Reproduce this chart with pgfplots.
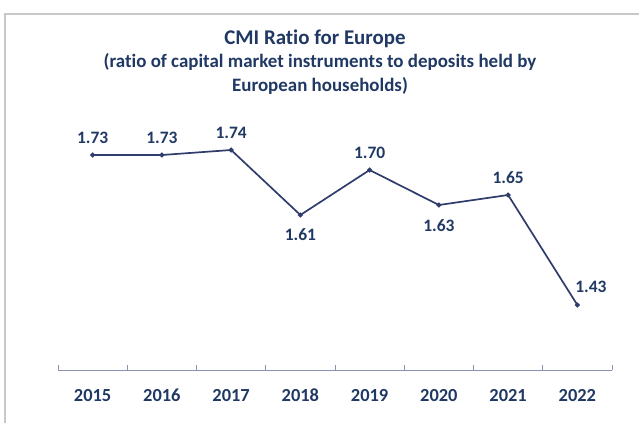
\documentclass[border=0pt]{standalone}
\usepackage{pgfplots}
\pgfplotsset{compat=1.18}
\usepackage{pgfplotstable}
\usepackage{fontspec}
\setmainfont{Carlito}[Ligatures=NoCommon]
\definecolor{navy}{HTML}{203864}
\definecolor{linecol}{HTML}{2F3C6C}
\definecolor{axiscol}{HTML}{8A92B2}
\definecolor{framecol}{HTML}{C8C8C8}
\pgfplotstableread{
x y anc dx dy
0 1.73 270 0 11
1 1.73 270 0 11
2 1.74 270 0 11
3 1.61 90 0 -13
4 1.70 270 0 11
5 1.63 90 0 -14
6 1.65 270 0 11
7 1.43 225 7 12
}\cmidata
\begin{document}
\begin{tikzpicture}[x=1bp,y=1bp]
\path[use as bounding box] (0,0) rectangle (639,423);
\draw[framecol,line width=1.2bp] (5,0) -- (5,409) -- (639,409);
\node[anchor=base,text=navy,font=\fontsize{21}{25}\selectfont\bfseries] at (315,379) {CMI Ratio for Europe};
\node[anchor=base,text=navy,font=\fontsize{19}{22}\selectfont\bfseries] at (320,356) {(ratio of capital market instruments to deposits held by};
\node[anchor=base,text=navy,font=\fontsize{19}{22}\selectfont\bfseries] at (320,332) {European households)};
\begin{axis}[
  at={(58bp,53bp)}, anchor=south west,
  scale only axis, width=554bp, height=250bp,
  xmin=-0.5, xmax=7.5, ymin=1.3, ymax=1.8,
  axis x line=bottom, axis y line=none,
  axis line style={axiscol,line width=1bp,-},
  xtick={0,...,7},
  xticklabels={2015,2016,2017,2018,2019,2020,2021,2022},
  major tick length=0pt,
  minor xtick={-0.5,0.5,...,7.5},
  minor tick length=5bp,
  tick align=inside,
  minor tick style={axiscol,line width=0.8bp},
  xticklabel style={text=navy,font=\fontsize{18.5}{22}\selectfont\bfseries,anchor=base,yshift=-31bp},
  clip=false,
]
\addplot[linecol,line width=1.7bp,mark=*,mark size=1.5bp,mark options={fill=linecol,draw=linecol},
  point meta=explicit,
  nodes near coords={\pgfmathprintnumber[fixed,fixed zerofill,precision=2,assume math mode=true]{\pgfplotspointmeta}},
  visualization depends on={\thisrow{anc}\as\anc},
  visualization depends on={\thisrow{dx}\as\dx},
  visualization depends on={\thisrow{dy}\as\dy},
  nodes near coords style={anchor=\anc,inner sep=0pt,xshift=\dx pt,yshift=\dy pt,text=navy,
     font=\fontsize{17.5}{20}\selectfont\bfseries},
] table[x=x,y=y,meta=y]{\cmidata};
\end{axis}
\end{tikzpicture}
\end{document}
